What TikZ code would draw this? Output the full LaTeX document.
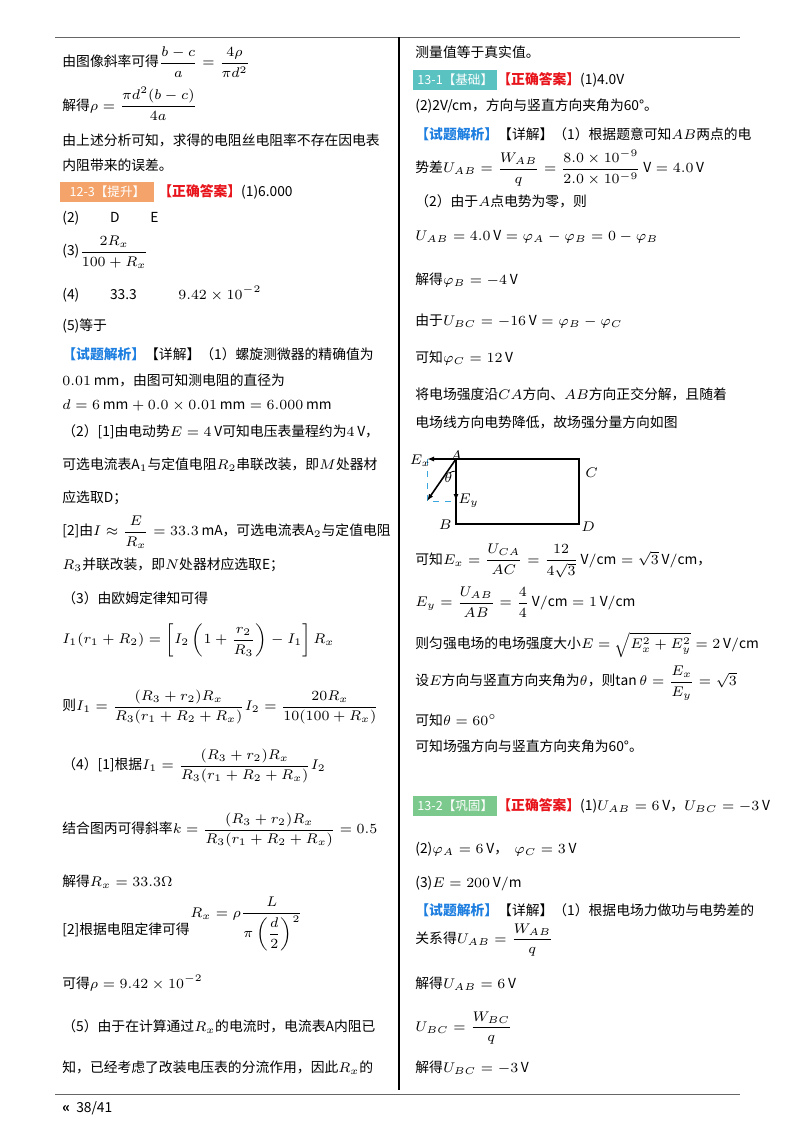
\documentclass[tikz,border=0pt]{standalone}
\usepackage{amsmath}
\usepackage{fontspec}
\setmainfont{Noto Sans CJK SC}
\usepackage{tikz}
\usetikzlibrary{arrows.meta}
\definecolor{chiporange}{HTML}{F4A46A}
\definecolor{chipteal}{HTML}{5BC2C2}
\definecolor{chipgreen}{HTML}{7CC98E}
\definecolor{ansred}{HTML}{E8141B}
\definecolor{anblue}{HTML}{1E7FE0}
\definecolor{dashblue}{HTML}{3AA6E0}
\tikzset{
  txt/.style={anchor=west, inner sep=0pt, font=\fontsize{6.9}{8.5}\selectfont},
  chip/.style={anchor=west, inner sep=2pt, text=white, font=\fontsize{6.3}{8}\selectfont},
  rule/.style={draw=black!60, line width=0.4pt}
}
\newcommand{\ans}{\textcolor{ansred}{\textbf{【正确答案】}}}
\newcommand{\jx}{\textcolor{anblue}{\textbf{【试题解析】}}}
\begin{document}
\begin{tikzpicture}[x=0.5pt, y=-0.5pt]
\useasboundingbox (0,0) rectangle (800,1132);

% page frame
\draw[rule] (55,37) -- (740,37);
\draw[rule] (55,1094) -- (740,1094);
\draw[line width=1pt] (399,37) -- (399,1090);
\node[txt] (foot) at (62,1108) {\textbf{«}\ \ 38/41};

% left column
\node[txt] (l1) at (62,62) {由图像斜率可得$\dfrac{b-c}{a}=\dfrac{4\rho}{\pi d^2}$};
\node[txt] (l2) at (62,104) {解得$\rho=\dfrac{\pi d^2(b-c)}{4a}$};
\node[txt] (l3) at (62,140) {由上述分析可知，求得的电阻丝电阻率不存在因电表};
\node[txt] (l4) at (62,165) {内阻带来的误差。};
\node[chip, fill=chiporange, minimum width=47pt] (c1) at (60,192) {12-3【提升】};
\node[txt] (l5) at (158,192) {\ans(1)6.000};
\node[txt] (l6) at (62,218) {(2)\qquad\ D\qquad\ E};
\node[txt] (l7) at (62,252) {(3)$\dfrac{2R_x}{100+R_x}$};
\node[txt] (l8) at (62,294) {(4)\qquad\ 33.3\qquad\quad $9.42\times10^{-2}$};
\node[txt] (l9) at (62,326) {(5)等于};
\node[txt] (l10) at (62,354) {\jx【详解】（1）螺旋测微器的精确值为};
\node[txt] (l11) at (62,380) {$0.01\,\mathrm{mm}$，由图可知测电阻的直径为};
\node[txt] (l12) at (62,405) {$d=6\,\mathrm{mm}+0.0\times0.01\,\mathrm{mm}=6.000\,\mathrm{mm}$};
\node[txt] (l13) at (62,432) {（2）[1]由电动势$E=4\,\mathrm{V}$可知电压表量程约为$4\,\mathrm{V}$，};
\node[txt] (l14) at (62,465) {可选电流表A$_1$与定值电阻$R_2$串联改装，即$M$处器材};
\node[txt] (l15) at (62,498) {应选取D；};
\node[txt] (l16) at (62,532) {[2]由$I\approx\dfrac{E}{R_x}=33.3\,\mathrm{mA}$，可选电流表A$_2$与定值电阻};
\node[txt] (l17) at (62,565) {$R_3$并联改装，即$N$处器材应选取E；};
\node[txt] (l18) at (62,598) {（3）由欧姆定律知可得};
\node[txt] (l19) at (62,640) {$I_1(r_1+R_2)=\left[I_2\left(1+\dfrac{r_2}{R_3}\right)-I_1\right]R_x$};
\node[txt] (l20) at (62,707) {则$I_1=\dfrac{(R_3+r_2)R_x}{R_3(r_1+R_2+R_x)}I_2=\dfrac{20R_x}{10(100+R_x)}$};
\node[txt] (l21) at (62,766) {（4）[1]根据$I_1=\dfrac{(R_3+r_2)R_x}{R_3(r_1+R_2+R_x)}I_2$};
\node[txt] (l22) at (62,830) {结合图丙可得斜率$k=\dfrac{(R_3+r_2)R_x}{R_3(r_1+R_2+R_x)}=0.5$};
\node[txt] (l23) at (62,882) {解得$R_x=33.3\Omega$};
\node[txt] (l24) at (62,930) {[2]根据电阻定律可得};
\node[txt] (l25) at (190,924) {$R_x=\rho\dfrac{L}{\pi\left(\dfrac{d}{2}\right)^2}$};
\node[txt] (l26) at (62,983) {可得$\rho=9.42\times10^{-2}$};
\node[txt] (l27) at (62,1027) {（5）由于在计算通过$R_x$的电流时，电流表A内阻已};
\node[txt] (l28) at (62,1068) {知，已经考虑了改装电压表的分流作用，因此$R_x$的};

% right column
\node[txt] (r1) at (415,52) {测量值等于真实值。};
\node[chip, fill=chipteal, minimum width=39pt] (c2) at (413,80) {13-1【基础】};
\node[txt] (r2) at (497,80) {\ans(1)4.0V};
\node[txt] (r3) at (415,106) {(2)2V/cm，方向与竖直方向夹角为60°。};
\node[txt] (r4) at (415,134) {\jx【详解】（1）根据题意可知$AB$两点的电};
\node[txt] (r5) at (415,168) {势差$U_{AB}=\dfrac{W_{AB}}{q}=\dfrac{8.0\times10^{-9}}{2.0\times10^{-9}}\,\mathrm{V}=4.0\,\mathrm{V}$};
\node[txt] (r6) at (415,201) {（2）由于$A$点电势为零，则};
\node[txt] (r7) at (415,237) {$U_{AB}=4.0\,\mathrm{V}=\varphi_A-\varphi_B=0-\varphi_B$};
\node[txt] (r8) at (415,280) {解得$\varphi_B=-4\,\mathrm{V}$};
\node[txt] (r9) at (415,321) {由于$U_{BC}=-16\,\mathrm{V}=\varphi_B-\varphi_C$};
\node[txt] (r10) at (415,358) {可知$\varphi_C=12\,\mathrm{V}$};
\node[txt] (r11) at (415,394) {将电场强度沿$CA$方向、$AB$方向正交分解，且随着};
\node[txt] (r12) at (415,422) {电场线方向电势降低，故场强分量方向如图};

% field diagram
\coordinate (A) at (456,459);
\coordinate (C) at (579,459);
\coordinate (B) at (456,524);
\coordinate (D) at (579,524);
\coordinate (Ex) at (427,459);
\coordinate (Ey) at (456,501);
\coordinate (E) at (427,501);
\draw[line width=0.8pt] (A) -- (C) -- (D) -- (B) -- (A);
\draw[dashed, dashblue] (Ex) -- (E) -- (Ey);
\draw[-{Latex[length=3.5pt,width=2.5pt]}, line width=0.8pt] (A) -- (Ex);
\draw[-{Latex[length=3.5pt,width=2.5pt]}, line width=0.8pt] (A) -- (Ey);
\draw[-{Latex[length=3.5pt,width=2.5pt]}, line width=0.8pt] (A) -- (E);
\draw (456,471) arc (270:235:12);
\node[txt, anchor=south east] (lEx) at ([xshift=2,yshift=-4]Ex) {$E_x$};
\node[txt, anchor=south] (lA) at ([yshift=-1]A) {$A$};
\node[txt, anchor=west] (lC) at ([xshift=3,yshift=-7]C) {$C$};
\node[txt, anchor=north east] (lB) at ([xshift=-2,yshift=2]B) {$B$};
\node[txt, anchor=north west] (lD) at ([xshift=1,yshift=1]D) {$D$};
\node[txt, anchor=west] (lEy) at ([xshift=1]Ey) {$E_y$};
\node[txt] (lth) at (444,478) {$\theta$};

\node[txt] (r13) at (415,561) {可知$E_x=\dfrac{U_{CA}}{AC}=\dfrac{12}{4\sqrt3}\,\mathrm{V/cm}=\sqrt3\,\mathrm{V/cm}$，};
\node[txt] (r14) at (415,602) {$E_y=\dfrac{U_{AB}}{AB}=\dfrac{4}{4}\,\mathrm{V/cm}=1\,\mathrm{V/cm}$};
\node[txt] (r15) at (415,645) {则匀强电场的电场强度大小$E=\sqrt{E_x^2+E_y^2}=2\,\mathrm{V/cm}$};
\node[txt] (r16) at (415,683) {设$E$方向与竖直方向夹角为$\theta$，则$\tan\theta=\dfrac{E_x}{E_y}=\sqrt3$};
\node[txt] (r17) at (415,720) {可知$\theta=60^\circ$};
\node[txt] (r18) at (415,746) {可知场强方向与竖直方向夹角为60°。};
\node[chip, fill=chipgreen, minimum width=39pt] (c3) at (413,806) {13-2【巩固】};
\node[txt] (r19) at (497,806) {\ans(1)$U_{AB}=6\,\mathrm{V}$，$U_{BC}=-3\,\mathrm{V}$};
\node[txt] (r20) at (415,849) {(2)$\varphi_A=6\,\mathrm{V}$，\ \ $\varphi_C=3\,\mathrm{V}$};
\node[txt] (r21) at (415,884) {(3)$E=200\,\mathrm{V/m}$};
\node[txt] (r22) at (415,910) {\jx【详解】（1）根据电场力做功与电势差的};
\node[txt] (r23) at (415,940) {关系得$U_{AB}=\dfrac{W_{AB}}{q}$};
\node[txt] (r24) at (415,984) {解得$U_{AB}=6\,\mathrm{V}$};
\node[txt] (r25) at (415,1028) {$U_{BC}=\dfrac{W_{BC}}{q}$};
\node[txt] (r26) at (415,1068) {解得$U_{BC}=-3\,\mathrm{V}$};
\end{tikzpicture}
\end{document}
